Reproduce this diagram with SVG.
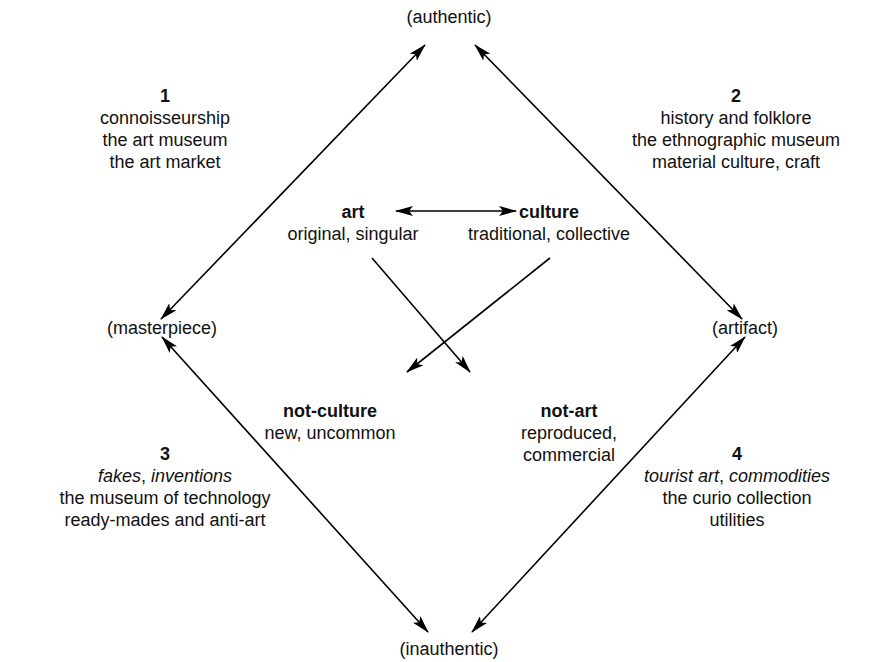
<svg xmlns="http://www.w3.org/2000/svg" width="880" height="662" viewBox="0 0 880 662">
<defs>
<marker id="ah" viewBox="0 0 18 10" refX="17" refY="5" markerWidth="18" markerHeight="10" markerUnits="userSpaceOnUse" orient="auto-start-reverse">
<path d="M0,0 L18,5 L0,10 L4,5 Z" fill="#000"/>
</marker>
<style>
text{font-family:"Liberation Sans",Arial,Helvetica,sans-serif;font-size:18px;fill:#111;text-anchor:middle}
.b{font-weight:bold}
.i{font-style:italic}
line{stroke:#000;stroke-width:1.6;fill:none}
</style>
</defs>
<rect width="880" height="662" fill="#fff"/>
<g id="connectors">
<line x1="161" y1="319" x2="425" y2="45" marker-start="url(#ah)" marker-end="url(#ah)"/>
<line x1="475" y1="45" x2="742" y2="319" marker-start="url(#ah)" marker-end="url(#ah)"/>
<line x1="162" y1="337" x2="428" y2="632" marker-start="url(#ah)" marker-end="url(#ah)"/>
<line x1="745" y1="337" x2="472" y2="632" marker-start="url(#ah)" marker-end="url(#ah)"/>
<line x1="396" y1="211" x2="516" y2="211" marker-start="url(#ah)" marker-end="url(#ah)"/>
<line x1="372" y1="258" x2="470" y2="372" marker-end="url(#ah)"/>
<line x1="550" y1="258" x2="407" y2="372" marker-end="url(#ah)"/>
</g>
<g id="authentic"><text x="449" y="23">(authentic)</text></g>
<g id="inauthentic"><text x="449" y="655">(inauthentic)</text></g>
<g id="masterpiece"><text x="162" y="334">(masterpiece)</text></g>
<g id="artifact"><text x="745" y="334">(artifact)</text></g>
<g id="q1">
<text x="165" y="102" class="b">1</text>
<text x="165" y="124">connoisseurship</text>
<text x="165" y="146">the art museum</text>
<text x="165" y="168">the art market</text>
</g>
<g id="q2">
<text x="736" y="102" class="b">2</text>
<text x="736" y="124">history and folklore</text>
<text x="736" y="146">the ethnographic museum</text>
<text x="736" y="168">material culture, craft</text>
</g>
<g id="art">
<text x="353" y="218" class="b">art</text>
<text x="353" y="240">original, singular</text>
</g>
<g id="culture">
<text x="549" y="218" class="b">culture</text>
<text x="549" y="240">traditional, collective</text>
</g>
<g id="not-culture">
<text x="330" y="417" class="b">not-culture</text>
<text x="330" y="439">new, uncommon</text>
</g>
<g id="not-art">
<text x="569" y="417" class="b">not-art</text>
<text x="569" y="439">reproduced,</text>
<text x="569" y="461">commercial</text>
</g>
<g id="q3">
<text x="165" y="460" class="b">3</text>
<text x="165" y="482"><tspan class="i">fakes</tspan>, <tspan class="i">inventions</tspan></text>
<text x="165" y="504">the museum of technology</text>
<text x="165" y="526">ready-mades and anti-art</text>
</g>
<g id="q4">
<text x="737" y="460" class="b">4</text>
<text x="737" y="482"><tspan class="i">tourist art</tspan>, <tspan class="i">commodities</tspan></text>
<text x="737" y="504">the curio collection</text>
<text x="737" y="526">utilities</text>
</g>
</svg>
